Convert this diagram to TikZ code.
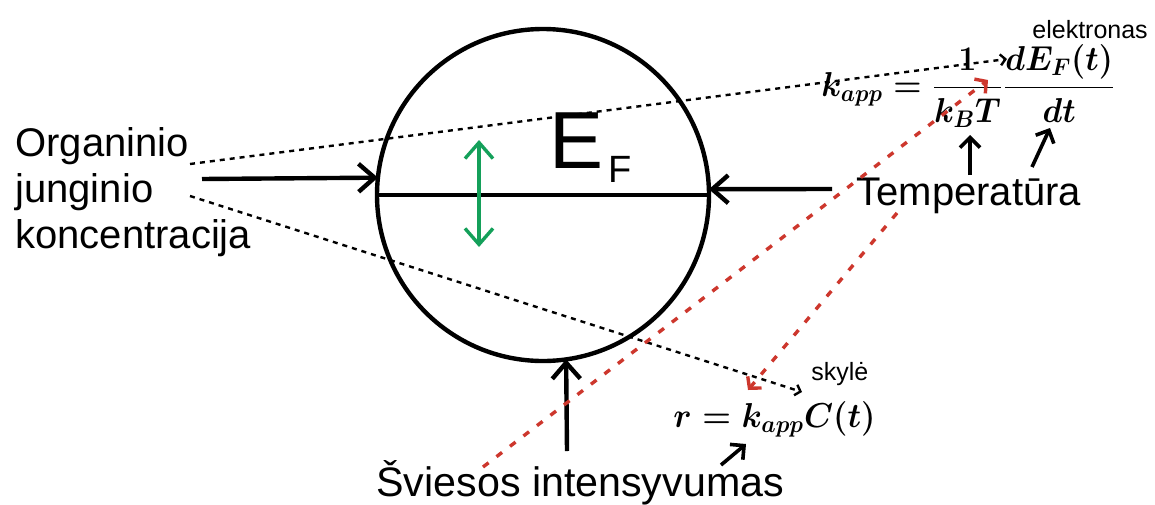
\documentclass[tikz,border=0pt]{standalone}
\usepackage{graphicx}
\usepackage[no-math]{fontspec}
\setmainfont{Liberation Sans}
\usetikzlibrary{arrows.meta}
\definecolor{grn}{RGB}{20,160,90}
\definecolor{rd}{RGB}{205,55,45}
\begin{document}
\begin{tikzpicture}[x=0.5pt,y=-0.5pt,
  lbl/.style={inner sep=0pt, font=\fontsize{20}{23}\selectfont},
  small/.style={inner sep=0pt, font=\fontsize{12.5}{14}\selectfont},
  mth/.style={inner sep=0pt, font=\fontsize{17.28}{19}\selectfont\boldmath},
  mainarrow/.style={line width=2.2pt, -{Straight Barb[length=8pt,width=14pt]}},
  grnarrow/.style={grn, line width=1.7pt, {Straight Barb[length=8pt,width=14pt]}-{Straight Barb[length=8pt,width=14pt]}},
  dotline/.style={line width=1.2pt, dash pattern=on 2.5pt off 2.5pt, -{Straight Barb[length=2.5pt,width=5.5pt]}},
  redline/.style={rd, line width=1.7pt, dash pattern=on 3.5pt off 5pt, -{Straight Barb[length=4pt,width=9pt]}},
  smallarrow/.style={line width=1.8pt, -{Straight Barb[length=5pt,width=10pt]}}
]
\useasboundingbox (0,0) rectangle (1155,504);

% dotted connectors
\coordinate (d1a) at (190,164);
\coordinate (d1b) at (1007,59);
\coordinate (d2a) at (190,196);
\coordinate (d2b) at (802,392);
\draw[dotline] (d1a) -- (d1b);
\draw[dotline] (d2a) -- (d2b);

% circle
\node[draw, circle, line width=2.2pt, minimum size=166pt, inner sep=0pt, outer sep=0pt] (C) at (543,195) {};
\draw[line width=2.2pt] (C.west) -- (C.east);
\node[anchor=base west, inner sep=0pt] (EF) at (549,168)
  {\fontsize{40.5}{40}\selectfont E\hspace{2.5pt}\raisebox{-7pt}{\fontsize{19}{19}\selectfont F}};

% green arrow
\coordinate (g1) at (479,140);
\coordinate (g2) at (479,247);
\draw[grnarrow] (g1) -- (g2);

% labels
\node[lbl, align=left, anchor=north west] (org) at (15,127) {Organinio\\junginio\\koncentracija};
\node[lbl, anchor=base west] (temp) at (856,205) {Temperatūra};
\node[lbl, anchor=base west, font=\fontsize{20.6}{23}\selectfont] (svi) at (376,496) {Šviesos intensyvumas};
\node[small, anchor=base west] (el) at (1032,38) {elektronas};
\node[small, anchor=base west] (sk) at (811,380) {skylė};
\node[mth, anchor=base west] (kf) at (821,96) {\scalebox{0.935}[1]{$k_{app}=\displaystyle\frac{1}{k_BT}\frac{dE_F(t)}{dt}$}};
\node[mth, anchor=base west] (rf) at (673,427) {\scalebox{0.95}[1]{$r=k_{app}C(t)$}};

% main arrows
\coordinate (o1) at (202,179);
\coordinate (t1) at (832,189);
\coordinate (s1) at (567,451);
\draw[mainarrow] (o1) -- (C.174.5);
\draw[mainarrow] (t1) -- (C.2);
\draw[mainarrow] (s1) -- (C.-82);

% small arrows
\coordinate (k1a) at (970,175);
\coordinate (k1b) at (970,135);
\coordinate (k2a) at (1032,167);
\coordinate (k2b) at (1050,128);
\coordinate (k3a) at (721,465);
\coordinate (k3b) at (746,444);
\draw[smallarrow] (k1a) -- (k1b);
\draw[smallarrow] (k2a) -- (k2b);
\draw[smallarrow] (k3a) -- (k3b);

% red dashed connectors
\coordinate (r1a) at (483,467);
\coordinate (r1b) at (988,80);
\coordinate (r2a) at (897,213);
\coordinate (r2b) at (748,390);
\draw[redline] (r1a) -- (r1b);
\draw[redline] (r2a) -- (r2b);
\end{tikzpicture}
\end{document}
